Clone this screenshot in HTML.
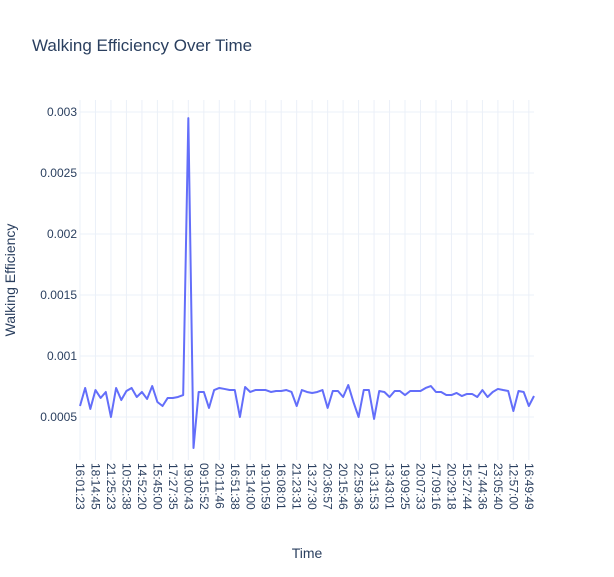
<!DOCTYPE html>
<html><head><meta charset="utf-8"><style>
body{margin:0;background:#fff;font-family:"Liberation Sans",Arial,sans-serif}
svg text{font-family:"Liberation Sans",Arial,sans-serif;fill:#2a3f5f}
</style></head><body>
<svg id="c" width="614" height="572">
<text x="32" y="51" font-size="17">Walking Efficiency Over Time</text>
<g id="grid"></g><g id="ticks"></g><g id="lines"></g>
<text x="307" y="558" font-size="14" text-anchor="middle">Time</text>
<text transform="translate(15,280) rotate(-90)" font-size="14" text-anchor="middle">Walking Efficiency</text>
</svg>
<script>
const values=[0.00059,0.000738,0.000566,0.000721,0.000656,0.000705,0.0005,0.000738,0.000639,0.000713,0.000738,0.000664,0.000705,0.000648,0.000754,0.000623,0.00059,0.000656,0.000656,0.000664,0.00068,0.00295,0.000246,0.000705,0.000705,0.000574,0.000721,0.000738,0.00073,0.000721,0.000721,0.0005,0.000746,0.000705,0.000721,0.000721,0.000721,0.000705,0.000713,0.000713,0.000721,0.000705,0.00059,0.000721,0.000705,0.000697,0.000705,0.000721,0.000574,0.000713,0.000713,0.000664,0.000762,0.000623,0.0005,0.000721,0.000721,0.000484,0.000713,0.000705,0.000664,0.000713,0.000713,0.00068,0.000713,0.000713,0.000713,0.000738,0.000754,0.000705,0.000705,0.00068,0.00068,0.000697,0.000672,0.000689,0.000689,0.000664,0.000721,0.000664,0.000705,0.00073,0.000721,0.000713,0.000549,0.000713,0.000705,0.00059,0.000672];
const tickLabels=["16:01:23","18:14:45","21:25:23","10:52:38","14:52:20","15:45:00","17:27:35","19:00:43","09:15:52","20:11:46","16:51:38","15:14:00","19:10:59","16:08:01","21:23:31","13:27:30","20:36:57","20:15:46","22:59:36","01:31:53","13:43:01","19:09:25","20:07:33","17:09:16","20:29:18","15:27:44","17:44:36","23:05:40","12:57:00","16:49:49"];
const yTicks=[0.0005,0.001,0.0015,0.002,0.0025,0.003];
const yTickText=["0.0005","0.001","0.0015","0.002","0.0025","0.003"];
const NS="http://www.w3.org/2000/svg";
const X0=80,X1=534,Y0=100,Y1=460;
const xs=i=>X0+i*(X1-X0)/(values.length-1);
const ys=v=>478-v*122000;
const grid=document.getElementById('grid'),ticks=document.getElementById('ticks'),lines=document.getElementById('lines');
function mk(tag,at,p){const e=document.createElementNS(NS,tag);for(const k in at)e.setAttribute(k,at[k]);p.appendChild(e);return e;}
yTicks.forEach((t,k)=>{const y=ys(t);
 const g=mk('line',{x1:X0,x2:X1,y1:y,y2:y,stroke:'#ebf0f8','stroke-width':1},grid);
 
 
 const tx=mk('text',{x:X0-3,y:y+4,'font-size':12,'text-anchor':'end'},ticks);tx.textContent=yTickText[k];
 
 
});
tickLabels.forEach((l,k)=>{const x=xs(k*3);
 const g=mk('line',{x1:x,x2:x,y1:Y0,y2:Y1,stroke:'#ebf0f8','stroke-width':1},grid);
 
 
 const tx=mk('text',{transform:`translate(${x-4},463) rotate(90)`,'font-size':12},ticks);tx.textContent=l;
 
 
});
const p=mk('polyline',{points:values.map((v,i)=>xs(i)+','+ys(v)).join(' '),fill:'none',stroke:'#636efa','stroke-width':2,'stroke-linejoin':'round'},lines);


</script>
</body></html>
